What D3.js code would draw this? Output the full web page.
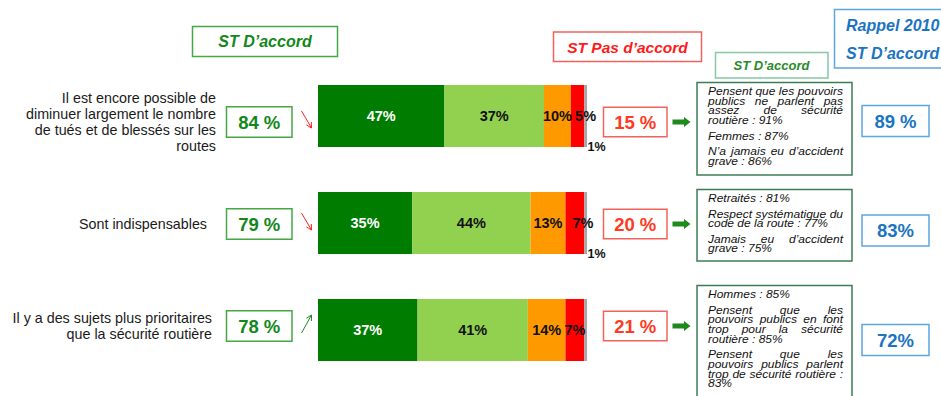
<!DOCTYPE html>
<html>
<head>
<meta charset="utf-8">
<script src="https://cdn.jsdelivr.net/npm/d3@7"></script>
<style>
  body { margin: 0; background: #fff; }
  svg { display: block; }
  text { font-family: "Liberation Sans", Arial, sans-serif; }
</style>
</head>
<body>
<svg id="chart" width="941" height="396"></svg>
<script>
// ---- Data -------------------------------------------------------------
const statements = [
  ["Il est encore possible de", "diminuer largement le nombre", "de tués et de blessés sur les", "routes"],
  ["Sont indispensables"],
  ["Il y a des sujets plus prioritaires", "que la sécurité routière"]
];
const totalAgree    = [84, 79, 78];
const trend         = ["down", "down", "up"];
const toutAFait     = [47, 35, 37];   // Tout à fait d'accord
const plutot        = [37, 44, 41];   // Plutôt d'accord
const plutotPas     = [10, 13, 14];   // Plutôt pas d'accord
const pasDuTout     = [5, 7, 7];      // Pas du tout d'accord
const nsp           = [1, 1, 1];      // Ne se prononce pas
const nspLabelShown = [true, true, false];
const totalDisagree = [15, 20, 21];
const recall2010    = [89, 83, 72];
const recallUnit    = [" %", "%", "%"];
const profiles = [
  [["Pensent que les pouvoirs", "publics ne parlent pas", "assez de sécurité", "routière : 91%"],
   ["Femmes : 87%"],
   ["N’a jamais eu d’accident", "grave : 86%"]],
  [["Retraités : 81%"],
   ["Respect systématique du", "code de la route : 77%"],
   ["Jamais eu d’accident", "grave : 75%"]],
  [["Hommes : 85%"],
   ["Pensent que les", "pouvoirs publics en font", "trop pour la sécurité", "routière : 85%"],
   ["Pensent que les", "pouvoirs publics parlent", "trop de sécurité routière :", "83%"]]
];

// ---- Styling ----------------------------------------------------------
const keys = ["toutAFait", "plutot", "plutotPas", "pasDuTout", "nsp"];
const segColor = { toutAFait: "#007D00", plutot: "#92D050", plutotPas: "#FF9900", pasDuTout: "#FF0000", nsp: "#A6A6A6" };
const segText  = { toutAFait: "#FFFFFF", plutot: "#111111", plutotPas: "#111111", pasDuTout: "#111111" };
const GREEN = "#12881A", GREEN_BORDER = "#45A845";
const RED = "#FF3A1E", RED_BORDER = "#F2625A";
const BLUE = "#1B74C2", BLUE_BORDER = "#5DA6DF";

const svg = d3.select("#chart");
svg.append("rect").attr("width", 941).attr("height", 396).attr("fill", "#fff");

// ---- Scales -----------------------------------------------------------
const rows = d3.range(statements.length);
const x = d3.scaleLinear().domain([0, 100]).range([318, 587]);
const yBar = d3.scalePoint().domain(rows).range([85, 299]);
const barH = 62;
const yMid = d3.scalePoint().domain(rows).range([122, 326]);      // side boxes
const yRecall = d3.scalePoint().domain(rows).range([121, 340]);   // 2010 boxes

const table = rows.map(i => ({
  row: i, toutAFait: toutAFait[i], plutot: plutot[i], plutotPas: plutotPas[i],
  pasDuTout: pasDuTout[i], nsp: nsp[i]
}));
const stacked = d3.stack().keys(keys)(table);

// ---- Header boxes -----------------------------------------------------
function headerBox(bx, by, bw, bh, border, lines, color, size, anchor) {
  svg.append("rect").attr("x", bx).attr("y", by).attr("width", bw).attr("height", bh)
    .attr("fill", "#fff").attr("stroke", border).attr("stroke-width", 1.5);
  lines.forEach(l => {
    svg.append("text").attr("x", l.x).attr("y", l.y)
      .attr("text-anchor", anchor).attr("fill", color)
      .attr("font-size", size).attr("font-weight", "bold").attr("font-style", "italic")
      .text(l.t);
  });
}
headerBox(192.5, 26.5, 145, 30, GREEN_BORDER, [{ t: "ST D’accord", x: 265, y: 47 }], GREEN, 16, "middle");
headerBox(553.5, 32, 148, 29.5, RED_BORDER, [{ t: "ST Pas d’accord", x: 627.5, y: 52.5 }], "#FF1A1A", 15.5, "middle");
headerBox(715.5, 52.5, 112.5, 25.5, "#86C7A4", [{ t: "ST D’accord", x: 771.5, y: 70 }], "#2A8B2A", 13, "middle");
headerBox(834.5, 9.5, 115, 58.5, BLUE_BORDER,
  [{ t: "Rappel 2010", x: 846, y: 31 }, { t: "ST D’accord", x: 846, y: 59 }], BLUE, 16, "start");

// ---- Statements -------------------------------------------------------
const labelRight = [216, 207, 212];
const lineStep = 16.3;
rows.forEach(i => {
  const lines = statements[i];
  const top = yMid(i) - (lines.length - 1) * lineStep / 2;
  const t = svg.append("text").attr("text-anchor", "end").attr("font-size", 14.3).attr("fill", "#1a1a1a");
  lines.forEach((l, k) => t.append("tspan").attr("x", labelRight[i]).attr("y", top + k * lineStep + 5).text(l));
});

// ---- Total agree boxes ------------------------------------------------
const pctBox = (g, bx, cy, bw, bh, border, color, label) => {
  g.append("rect").attr("x", bx).attr("y", cy - bh / 2).attr("width", bw).attr("height", bh)
    .attr("fill", "#fff").attr("stroke", border).attr("stroke-width", 1.5);
  g.append("text").attr("x", bx + bw / 2).attr("y", cy + 6.5).attr("text-anchor", "middle")
    .attr("font-size", 18.5).attr("font-weight", "bold").attr("fill", color).text(label);
};
rows.forEach(i => pctBox(svg, 226.5, yMid(i), 65.5, 30.5, GREEN_BORDER, GREEN, totalAgree[i] + " %"));

// ---- Trend arrows -----------------------------------------------------
rows.forEach(i => {
  const c = yMid(i) - 1;
  const down = trend[i] === "down";
  const x0 = 301.5, x1 = 311.5;
  const y0 = down ? c - 10 : c + 8, y1 = down ? c + 7 : c - 10;
  const ang = Math.atan2(y1 - y0, x1 - x0);
  const hl = 6, spread = 0.5;
  const p = d3.path();
  p.moveTo(x0, y0); p.lineTo(x1, y1);
  p.moveTo(x1 - hl * Math.cos(ang - spread), y1 - hl * Math.sin(ang - spread)); p.lineTo(x1, y1);
  p.lineTo(x1 - hl * Math.cos(ang + spread), y1 - hl * Math.sin(ang + spread));
  svg.append("path").attr("d", p.toString()).attr("fill", "none")
    .attr("stroke", down ? "#FF2020" : "#1E8C1E").attr("stroke-width", 1);
});

// ---- Stacked bars -----------------------------------------------------
const bars = svg.append("g");
stacked.forEach(s => {
  bars.selectAll(null).data(s).join("rect")
    .attr("x", d => x(d[0])).attr("y", d => yBar(d.data.row))
    .attr("width", d => x(d[1]) - x(d[0])).attr("height", barH)
    .attr("fill", segColor[s.key]);
});
const labelShift = { pasDuTout: [8, 8, 0] };
stacked.forEach(s => {
  if (s.key === "nsp") return;
  bars.selectAll(null).data(s).join("text")
    .attr("x", d => (x(d[0]) + x(d[1])) / 2 + (labelShift[s.key] ? labelShift[s.key][d.data.row] : 0))
    .attr("y", d => yBar(d.data.row) + barH / 2 + 5)
    .attr("text-anchor", "middle").attr("font-size", 14.5).attr("font-weight", "bold")
    .attr("fill", segText[s.key])
    .text(d => (d[1] - d[0]) + "%");
});
const nspSeries = stacked.find(s => s.key === "nsp");
bars.selectAll(null).data(nspSeries.filter(d => nspLabelShown[d.data.row])).join("text")
  .attr("x", d => x(d[1]) + 0.5).attr("y", d => yBar(d.data.row) + barH + 3.5)
  .attr("font-size", 12.5).attr("font-weight", "bold").attr("fill", "#111")
  .text(d => (d[1] - d[0]) + "%");

// ---- Total disagree boxes + block arrows ------------------------------
rows.forEach(i => {
  pctBox(svg, 603.5, yMid(i), 63.5, 29.5, RED_BORDER, RED, totalDisagree[i] + " %");
  const c = yMid(i);
  svg.append("path")
    .attr("d", `M672.5,${c - 2.5}H684V${c - 5}L690.5,${c}L684,${c + 5}V${c + 2.5}H672.5Z`)
    .attr("fill", "#1E8A1E");
});

// ---- Profile boxes (justified text) ------------------------------------
const boxTop = [82.5, 189.5, 285.5], boxH = [92.5, 71.5, 130];
const txtLeft = 708, txtWidth = 135, fs = 12, squash = 0.9;
const stepLine = 9.7, stepPara = 15.5;
rows.forEach(i => {
  svg.append("rect").attr("x", 697).attr("y", boxTop[i]).attr("width", 155).attr("height", boxH[i])
    .attr("fill", "#fff").attr("stroke", "#3C7D55").attr("stroke-width", 1.5);
  let y = boxTop[i] + 12.5;
  profiles[i].forEach((para, pi) => {
    if (pi > 0) y += stepPara - stepLine;
    para.forEach((line, li) => {
      const g = svg.append("g").attr("transform", `translate(0,${y}) scale(1,${squash})`);
      const last = li === para.length - 1;
      const words = line.split(" ");
      if (last || words.length < 2) {
        g.append("text").attr("x", txtLeft).attr("y", 0).attr("font-size", fs)
          .attr("font-style", "italic").attr("fill", "#111").text(line);
      } else {
        const ts = words.map(w => g.append("text").attr("y", 0).attr("font-size", fs)
          .attr("font-style", "italic").attr("fill", "#111").text(w));
        const widths = ts.map(t => t.node().getComputedTextLength());
        const gap = Math.max(2, (txtWidth - d3.sum(widths)) / (words.length - 1));
        let cx = txtLeft;
        ts.forEach((t, k) => { t.attr("x", cx); cx += widths[k] + gap; });
      }
      y += stepLine;
    });
  });
});

// ---- 2010 recall boxes --------------------------------------------------
rows.forEach(i => pctBox(svg, 862, yRecall(i), 67, 31, BLUE_BORDER, BLUE, recall2010[i] + recallUnit[i]));
</script>
</body>
</html>
